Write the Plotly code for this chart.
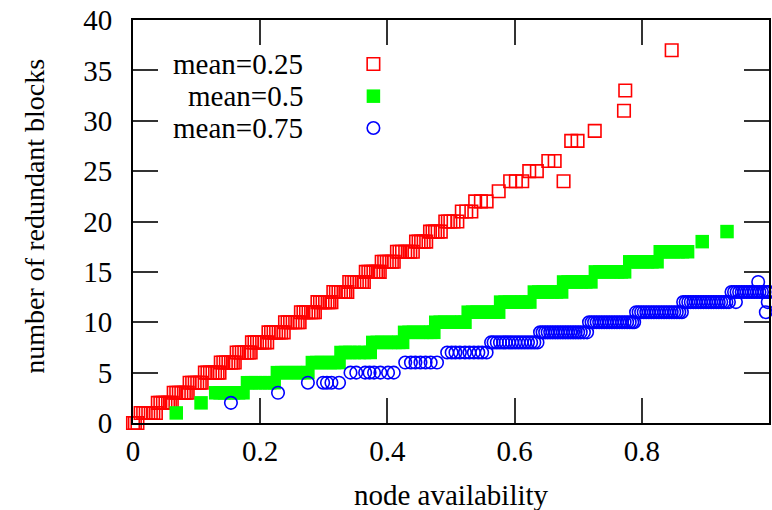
import plotly.graph_objects as go

# Number of redundant blocks needed per node, against node availability,
# for three mean-availability settings. Each inner list holds the node
# availabilities that map to the block count at the same position.
red_blocks = [0, 1, 2, 3, 4, 5, 6, 7, 8, 9, 10, 11, 12, 13, 14, 15, 16, 17, 18,
              19, 20, 21, 22, 23, 24, 25, 26, 28, 29, 31, 33, 37]
red_avail = [
    [0.0, 0.003, 0.007],
    [0.012, 0.016, 0.020, 0.024, 0.028, 0.032, 0.036],
    [0.039, 0.043, 0.047, 0.051, 0.055, 0.058, 0.061],
    [0.064, 0.068, 0.072, 0.076, 0.080, 0.083, 0.086],
    [0.089, 0.093, 0.097, 0.101, 0.105, 0.108],
    [0.113, 0.117, 0.121, 0.125, 0.129, 0.133, 0.136],
    [0.138, 0.142, 0.146, 0.150, 0.154, 0.157, 0.160],
    [0.163, 0.167, 0.171, 0.175, 0.179, 0.182, 0.185],
    [0.187, 0.191, 0.195, 0.199, 0.203, 0.207, 0.211],
    [0.213, 0.217, 0.221, 0.225, 0.229, 0.233, 0.237],
    [0.239, 0.243, 0.247, 0.251, 0.255, 0.259, 0.262],
    [0.264, 0.268, 0.272, 0.276, 0.280, 0.283, 0.286],
    [0.290, 0.294, 0.298, 0.302, 0.306, 0.309, 0.312],
    [0.315, 0.319, 0.323, 0.327, 0.331, 0.334, 0.337],
    [0.340, 0.344, 0.348, 0.352, 0.356, 0.360, 0.363],
    [0.366, 0.370, 0.374, 0.378, 0.382, 0.385, 0.388],
    [0.391, 0.395, 0.399, 0.403, 0.407, 0.410],
    [0.415, 0.419, 0.423, 0.428, 0.432, 0.436, 0.440],
    [0.445, 0.449, 0.453, 0.457, 0.461],
    [0.467, 0.471, 0.475, 0.479, 0.484],
    [0.491, 0.495, 0.499, 0.504, 0.510],
    [0.517, 0.524, 0.532],
    [0.538, 0.547, 0.556],
    [0.575],
    [0.593, 0.602, 0.612, 0.677],
    [0.623, 0.635],
    [0.653, 0.663],
    [0.689, 0.699],
    [0.726],
    [0.772],
    [0.774],
    [0.847],
]

green_blocks = list(range(1, 20))
green_avail = [
    [0.068],
    [0.107],
    [0.130, 0.137, 0.144, 0.151, 0.158, 0.166, 0.173],
    [0.180, 0.186, 0.193, 0.200, 0.208, 0.215, 0.222],
    [0.227, 0.234, 0.241, 0.248, 0.255, 0.262, 0.269, 0.275],
    [0.282, 0.289, 0.296, 0.303, 0.310, 0.317, 0.324],
    [0.327, 0.334, 0.341, 0.348, 0.356, 0.364, 0.373],
    [0.377, 0.384, 0.391, 0.398, 0.405, 0.412, 0.418, 0.424],
    [0.427, 0.434, 0.441, 0.448, 0.455, 0.462, 0.468, 0.473],
    [0.476, 0.483, 0.490, 0.497, 0.504, 0.511, 0.517, 0.522],
    [0.527, 0.534, 0.541, 0.548, 0.555, 0.562, 0.569, 0.575],
    [0.578, 0.585, 0.592, 0.599, 0.606, 0.612, 0.618, 0.624],
    [0.631, 0.638, 0.645, 0.652, 0.659, 0.666, 0.674],
    [0.677, 0.684, 0.691, 0.698, 0.705, 0.712, 0.720],
    [0.727, 0.734, 0.741, 0.748, 0.755, 0.762, 0.768, 0.773],
    [0.781, 0.788, 0.795, 0.802, 0.809, 0.816, 0.824],
    [0.829, 0.836, 0.843, 0.850, 0.857, 0.864, 0.872],
    [0.895],
    [0.934],
]

blue_blocks = list(range(2, 15))
blue_avail = [
    [0.154],
    [0.228],
    [0.275, 0.299, 0.305, 0.312, 0.324],
    [0.342, 0.351, 0.365, 0.372, 0.379, 0.389, 0.401, 0.410],
    [0.428, 0.437, 0.444, 0.452, 0.460, 0.468, 0.478],
    [0.494, 0.501, 0.507, 0.514, 0.522, 0.529, 0.536, 0.543, 0.549, 0.556],
    [0.563, 0.567, 0.572, 0.577, 0.582, 0.586, 0.591, 0.596, 0.601, 0.606,
     0.611, 0.616, 0.621, 0.626, 0.631, 0.636],
    [0.640, 0.644, 0.648, 0.652, 0.656, 0.660, 0.664, 0.668, 0.672, 0.676,
     0.680, 0.684, 0.688, 0.692, 0.696, 0.700, 0.704, 0.709, 0.714],
    [0.717, 0.721, 0.725, 0.729, 0.733, 0.737, 0.741, 0.745, 0.749, 0.753,
     0.757, 0.761, 0.765, 0.769, 0.773, 0.777, 0.781, 0.785, 0.788],
    [0.791, 0.795, 0.799, 0.803, 0.807, 0.811, 0.815, 0.819, 0.823, 0.827,
     0.831, 0.835, 0.839, 0.843, 0.847, 0.851, 0.855, 0.859, 0.863, 0.995],
    [0.865, 0.869, 0.873, 0.877, 0.881, 0.885, 0.889, 0.893, 0.897, 0.901,
     0.905, 0.909, 0.913, 0.917, 0.921, 0.925, 0.929, 0.933, 0.937, 0.948,
     0.998],
    [0.941, 0.945, 0.949, 0.953, 0.957, 0.961, 0.965, 0.969, 0.973, 0.977,
     0.981, 0.985, 0.989, 0.993, 0.997, 1.0],
    [0.983],
]

series_names = ["mean=0.25", "mean=0.5", "mean=0.75"]
x_ticks = [0, 0.2, 0.4, 0.6, 0.8, 1]
x_tick_text = ["0", "0.2", "0.4", "0.6", "0.8", "1"]
y_ticks = [0, 5, 10, 15, 20, 25, 30, 35, 40]


def flatten(blocks, avail):
    xs, ys = [], []
    for b, group in zip(blocks, avail):
        for a in group:
            xs.append(a)
            ys.append(b)
    return xs, ys


FONT = "Liberation Serif"
FS = 29

styles = [
    dict(symbol="square-open", size=12.5, color="rgb(255,0,0)",
         line=dict(width=1.6, color="rgb(255,0,0)")),
    dict(symbol="square", size=13.5, color="#00ff00",
         line=dict(width=0)),
    dict(symbol="circle-open", size=12.5, color="rgb(0,0,255)",
         line=dict(width=1.6, color="rgb(0,0,255)")),
]

fig = go.Figure()
for (blocks, avail), st in zip(
        [(red_blocks, red_avail), (green_blocks, green_avail),
         (blue_blocks, blue_avail)], styles):
    xs, ys = flatten(blocks, avail)
    fig.add_trace(go.Scatter(x=xs, y=ys, mode="markers", marker=st,
                             cliponaxis=False, showlegend=False,
                             hoverinfo="x+y"))

# Key: text on the left, symbol on the right, drawn on an overlay axis
key_y = [0.891, 0.811, 0.732]
for name, ky, st in zip(series_names, key_y, styles):
    fig.add_annotation(x=0.271, y=ky, xref="paper", yref="paper",
                       text=name, showarrow=False, xanchor="right",
                       yanchor="middle",
                       font=dict(family=FONT, size=FS, color="black"))
    fig.add_trace(go.Scatter(x=[0.378], y=[ky], xaxis="x2", yaxis="y2",
                             mode="markers", marker=st, showlegend=False,
                             hoverinfo="skip"))

axis_common = dict(
    ticks="inside", ticklen=25, tickwidth=2, tickcolor="#333",
    showline=True, linecolor="black", linewidth=2, mirror="ticks",
    showgrid=False, zeroline=False,
    tickfont=dict(family=FONT, size=FS, color="black"),
)

fig.update_layout(
    width=772, height=510,
    margin=dict(l=133, r=1, t=20, b=87),
    paper_bgcolor="white", plot_bgcolor="white",
    xaxis=dict(range=[0, 1], tickvals=x_ticks, ticktext=x_tick_text,
               ticklabelstandoff=1, **axis_common),
    yaxis=dict(range=[0, 40], tickvals=y_ticks, ticklabelstandoff=13,
               **axis_common),
    xaxis2=dict(range=[0, 1], overlaying="x", visible=False),
    yaxis2=dict(range=[0, 1], overlaying="y", visible=False),
    showlegend=False,
)

fig.add_annotation(x=0.5, y=-0.179, xref="paper", yref="paper",
                   text="node availability", showarrow=False,
                   xanchor="center", yanchor="middle",
                   font=dict(family=FONT, size=FS, color="black"))
fig.add_annotation(x=-0.154, y=0.512, xref="paper", yref="paper",
                   text="number of redundant blocks", showarrow=False,
                   textangle=-90, xanchor="center", yanchor="middle",
                   font=dict(family=FONT, size=28, color="black"))

fig.write_html("out.html")
